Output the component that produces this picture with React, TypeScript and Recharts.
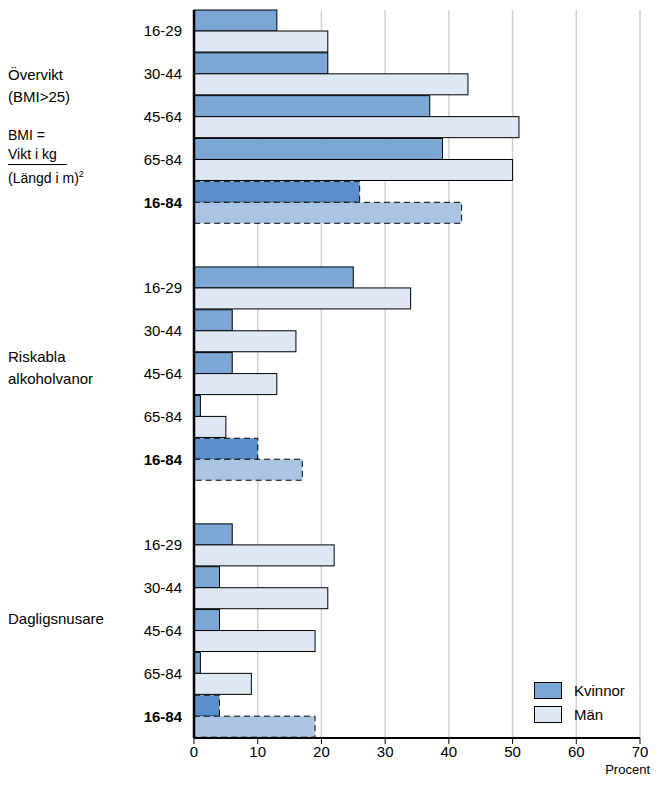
import { BarChart, Bar, XAxis, YAxis, CartesianGrid } from "recharts"

const ages = ["16-29", "30-44", "45-64", "65-84", "16-84"]
const kvinnor = [
  [13, 21, 37, 39, 26],
  [25, 6, 6, 1, 10],
  [6, 4, 4, 1, 4],
]
const man = [
  [21, 43, 51, 50, 42],
  [34, 16, 13, 5, 17],
  [22, 21, 19, 9, 19],
]
const xTicks = [0, 10, 20, 30, 40, 50, 60, 70]

const data: any[] = []
kvinnor.forEach((grp, g) => {
  if (g > 0) data.push({ id: `gap${g}`, label: "" })
  grp.forEach((v, i) => {
    data.push({ id: `r${g}-${i}`, label: ages[i], total: i === 4, k: v, m: man[g][i] })
  })
})
const labelOf: Record<string, any> = {}
data.forEach((d) => (labelOf[d.id] = d))

const font = "'Liberation Sans', Arial, sans-serif"

const makeShape = (normal: string, dark: string) => (p: any) => {
  const { x, y, width, height, payload } = p
  if (!width || width <= 0) return <g />
  const total = payload?.total
  return (
    <rect
      x={x}
      y={y}
      width={width}
      height={height}
      fill={total ? dark : normal}
      stroke="#000"
      strokeWidth={1}
      strokeDasharray={total ? "6 4" : undefined}
    />
  )
}

const YTick = ({ x, y, payload }: any) => {
  const d = labelOf[payload.value]
  if (!d || !d.label) return <g />
  return (
    <text x={x - 4} y={y} dy={5} textAnchor="end" fontSize={15} fontFamily={font}
      fontWeight={d.total ? "bold" : "normal"} fill="#000">
      {d.label}
    </text>
  )
}

export default function App() {
  return (
    <div style={{ position: "relative", width: 644, height: 770, fontFamily: font, color: "#000" }}>
      <BarChart width={644} height={770} data={data} layout="vertical"
        margin={{ top: 2, right: 12, bottom: 10, left: 0 }}
        barCategoryGap={0} barGap={0}>
        <CartesianGrid horizontal={false} stroke="#d0d0d0" strokeWidth={1.5} />
        <XAxis type="number" domain={[0, 70]} ticks={xTicks} axisLine={{ stroke: "#000", strokeWidth: 2 }}
          tickLine={{ stroke: "#000" }} tick={{ fontSize: 15, fill: "#000", fontFamily: font }} height={30} />
        <XAxis xAxisId="top" orientation="top" type="number" domain={[0, 70]} tick={false} tickLine={false}
          axisLine={{ stroke: "#000", strokeWidth: 2 }} height={0} />
        <YAxis type="category" dataKey="id" width={186} axisLine={{ stroke: "#000", strokeWidth: 2.5 }}
          tickLine={false} tick={<YTick />} interval={0} />
        <YAxis yAxisId="r" orientation="right" type="category" dataKey="id" width={0} tick={false}
          tickLine={false} axisLine={{ stroke: "#000", strokeWidth: 2 }} />
        <Bar dataKey="k" name="Kvinnor" isAnimationActive={false} shape={makeShape("#7ba7d6", "#5a8fcc")} />
        <Bar dataKey="m" name="Män" isAnimationActive={false} shape={makeShape("#dde8f4", "#a9c5e3")} />
      </BarChart>
      <div style={{ position: "absolute", left: 526, top: 670, fontSize: 15 }}>
        {[["#7ba7d6", "Kvinnor"], ["#dde8f4", "Män"]].map(([c, t]) => (
          <div key={t} style={{ display: "flex", alignItems: "center", height: 24 }}>
            <span style={{ width: 26, height: 15, background: c, border: "1px solid #000", marginRight: 12 }} />
            {t}
          </div>
        ))}
      </div>
      <div style={{ position: "absolute", left: 0, top: 56, fontSize: 15, lineHeight: "22px" }}>
        Övervikt<br />(BMI&gt;25)
      </div>
      <div style={{ position: "absolute", left: 0, top: 118, fontSize: 14, lineHeight: "19px" }}>
        BMI =<br />
        <span style={{ borderBottom: "1px solid #000", display: "inline-block", paddingRight: 10 }}>Vikt i kg</span>
        <br />(Längd i m)<sup style={{ fontSize: 9 }}>2</sup>
      </div>
      <div style={{ position: "absolute", left: 0, top: 338, fontSize: 15, lineHeight: "22px" }}>
        Riskabla<br />alkoholvanor
      </div>
      <div style={{ position: "absolute", left: 0, top: 602, fontSize: 15 }}>Dagligsnusare</div>
      <div style={{ position: "absolute", right: 2, top: 754, fontSize: 13 }}>Procent</div>
    </div>
  )
}
